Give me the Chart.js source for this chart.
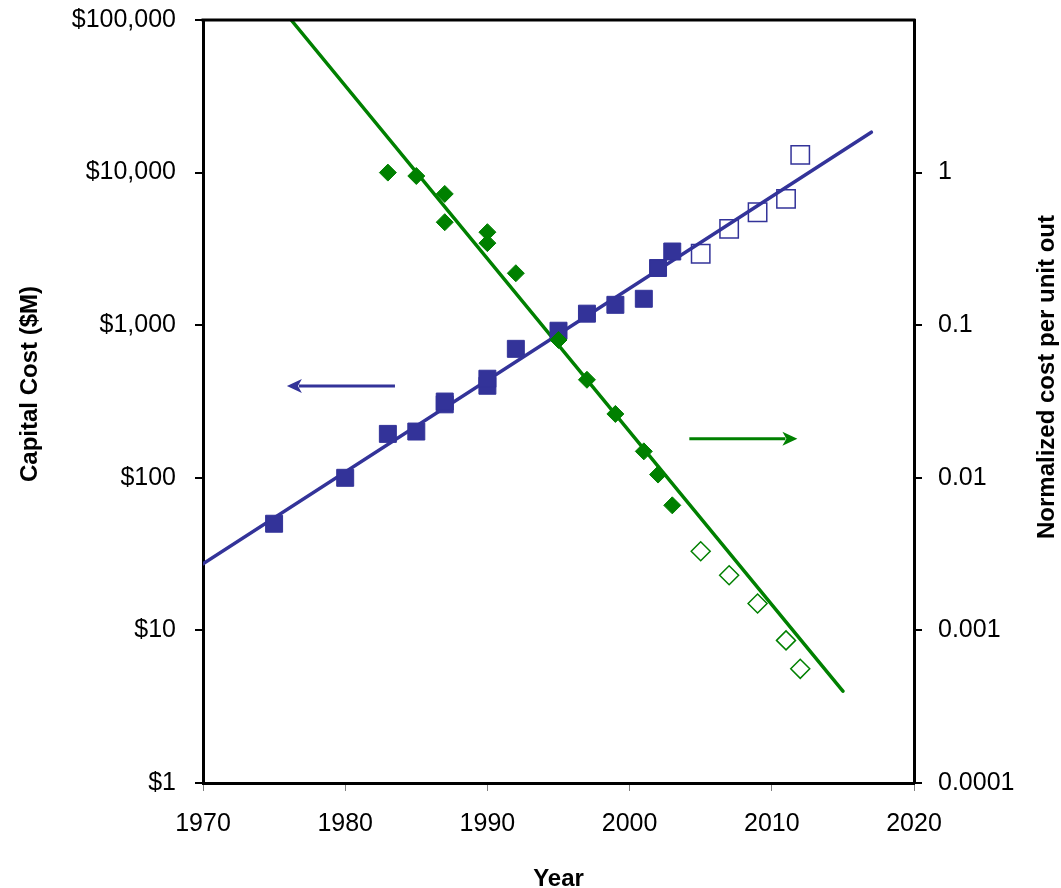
<!DOCTYPE html>
<html lang="en">
<head>
    <meta charset="UTF-8">
    <title>Capital Cost vs Normalized Cost</title>
    <script src="https://cdn.jsdelivr.net/npm/chart.js@4.4.1/dist/chart.umd.js"></script>
    <style>
        body { margin: 0; background: #fff; }
        #wrap { width: 1061px; height: 888px; }
    </style>
</head>
<body>
    <div id="wrap"><canvas id="chart" width="1061" height="888"></canvas></div>
    <script>
        // capital cost ($M), left axis
        const capYears = [1975, 1980, 1983, 1985, 1987, 1987, 1990, 1990, 1992, 1995, 1997, 1999, 2001, 2002, 2003];
        const capCost = [50, 100, 194, 201, 303, 316, 401, 446, 700, 920, 1190, 1360, 1490, 2370, 3040];
        const capYearsProj = [2005, 2007, 2009, 2011, 2012];
        const capCostProj = [2940, 4280, 5500, 6730, 13060];
        const capTrendYears = [1970, 2017];
        const capTrend = [27.3, 18400];

        // normalized cost per unit out, right axis
        const normYears = [1983, 1985, 1987, 1987, 1990, 1990, 1992, 1995, 1997, 1999, 2001, 2002, 2003];
        const normCost = [1.0, 0.95, 0.725, 0.473, 0.407, 0.345, 0.219, 0.08, 0.0439, 0.0262, 0.0149, 0.0105, 0.0066];
        const normYearsProj = [2005, 2007, 2009, 2011, 2012];
        const normCostProj = [0.0033, 0.0023, 0.0015, 0.00086, 0.00056];
        const normTrendYears = [1976.2, 2015];
        const normTrend = [10, 0.0004];

        // axis ticks
        const yearTicks = [1970, 1980, 1990, 2000, 2010, 2020];
        const costTicks = [1, 10, 100, 1000, 10000, 100000];
        const normTicks = [0.0001, 0.001, 0.01, 0.1, 1];

        // arrows pointing at the matching axis: [x, y] start, [x, y] end
        const capArrow = [[1983.5, 400], [1975.9, 400]];
        const normArrow = [[2004.2, 0.018], [2011.8, 0.018]];

        const BLUE = '#333399';
        const GREEN = '#008000';
        const FONT = "'Liberation Sans', Arial, sans-serif";

        const pts = (xs, ys) => xs.map((x, i) => ({ x: x, y: ys[i] }));
        const fixTicks = list => scale => { scale.ticks = list.map(v => ({ value: v })); };
        // fixed box sizes, no label overhang padding
        const fixWidth = w => s => { s.width = w; s.paddingTop = 0; s.paddingBottom = 0; };
        const fixHeight = h => s => { s.height = h; s.paddingLeft = 0; s.paddingRight = 0; };

        function arrow(ctx, x1, y1, x2, y2, color) {
            const dir = Math.sign(x2 - x1);
            ctx.save();
            ctx.strokeStyle = color;
            ctx.fillStyle = color;
            ctx.lineWidth = 3;
            ctx.beginPath();
            ctx.moveTo(x1, y1);
            ctx.lineTo(x2 - dir * 12, y2);
            ctx.stroke();
            ctx.beginPath();
            ctx.moveTo(x2, y2);
            ctx.lineTo(x2 - dir * 15, y2 - 7);
            ctx.lineTo(x2 - dir * 11, y2);
            ctx.lineTo(x2 - dir * 15, y2 + 7);
            ctx.closePath();
            ctx.fill();
            ctx.restore();
        }

        const extras = {
            id: 'extras',
            afterDraw(chart) {
                const { ctx, chartArea: a, scales } = chart;
                // top frame line
                ctx.save();
                ctx.strokeStyle = '#000';
                ctx.lineWidth = 3;
                ctx.beginPath();
                ctx.moveTo(a.left - 1.5, a.top);
                ctx.lineTo(a.right + 1.5, a.top);
                ctx.stroke();

                // axis titles
                ctx.fillStyle = '#000';
                ctx.font = 'bold 24px ' + FONT;
                ctx.textAlign = 'center';
                ctx.textBaseline = 'middle';
                ctx.fillText('Year', (a.left + a.right) / 2, 879);
                ctx.save();
                ctx.translate(30, 384);
                ctx.rotate(-Math.PI / 2);
                ctx.fillText('Capital Cost ($M)', 0, 0);
                ctx.restore();
                ctx.save();
                ctx.translate(1047, 377);
                ctx.rotate(-Math.PI / 2);
                ctx.fillText('Normalized cost per unit out', 0, 0);
                ctx.restore();
                ctx.restore();

                const x = scales.x, y = scales.y, y2 = scales.y2;
                arrow(ctx, x.getPixelForValue(capArrow[0][0]), y.getPixelForValue(capArrow[0][1]),
                      x.getPixelForValue(capArrow[1][0]), y.getPixelForValue(capArrow[1][1]), BLUE);
                arrow(ctx, x.getPixelForValue(normArrow[0][0]), y2.getPixelForValue(normArrow[0][1]),
                      x.getPixelForValue(normArrow[1][0]), y2.getPixelForValue(normArrow[1][1]), GREEN);
            }
        };

        const ctx = document.getElementById('chart').getContext('2d');
        new Chart(ctx, {
            type: 'scatter',
            data: {
                datasets: [
                    {
                        label: 'Normalized cost',
                        data: pts(normYears, normCost),
                        yAxisID: 'y2',
                        pointStyle: 'rectRot',
                        pointRadius: 8.5,
                        backgroundColor: GREEN,
                        borderColor: GREEN,
                        borderWidth: 1,
                        order: 1
                    },
                    {
                        label: 'Normalized cost (projected)',
                        data: pts(normYearsProj, normCostProj),
                        yAxisID: 'y2',
                        pointStyle: 'rectRot',
                        pointRadius: 9.5,
                        backgroundColor: 'rgba(0,0,0,0)',
                        borderColor: GREEN,
                        borderWidth: 1.5,
                        order: 2
                    },
                    {
                        label: 'Capital cost',
                        data: pts(capYears, capCost),
                        yAxisID: 'y',
                        pointStyle: 'rect',
                        pointRadius: 12,
                        backgroundColor: BLUE,
                        borderColor: BLUE,
                        borderWidth: 1,
                        order: 3
                    },
                    {
                        label: 'Capital cost (projected)',
                        data: pts(capYearsProj, capCostProj),
                        yAxisID: 'y',
                        pointStyle: 'rect',
                        pointRadius: 13,
                        backgroundColor: 'rgba(0,0,0,0)',
                        borderColor: BLUE,
                        borderWidth: 1.5,
                        order: 4
                    },
                    {
                        label: 'Normalized trend',
                        type: 'line',
                        data: pts(normTrendYears, normTrend),
                        yAxisID: 'y2',
                        showLine: true,
                        pointRadius: 0,
                        borderColor: GREEN,
                        borderWidth: 3.5,
                        borderCapStyle: 'round',
                        order: 5
                    },
                    {
                        label: 'Capital trend',
                        type: 'line',
                        data: pts(capTrendYears, capTrend),
                        yAxisID: 'y',
                        showLine: true,
                        pointRadius: 0,
                        borderColor: BLUE,
                        borderWidth: 3.5,
                        borderCapStyle: 'round',
                        order: 6
                    }
                ]
            },
            options: {
                responsive: false,
                animation: false,
                events: [],
                layout: { padding: { top: 20, left: 0, right: 0, bottom: 0 } },
                plugins: {
                    legend: { display: false },
                    tooltip: { enabled: false }
                },
                scales: {
                    x: {
                        type: 'linear',
                        position: 'bottom',
                        min: 1970,
                        max: 2020,
                        afterBuildTicks: fixTicks(yearTicks),
                        afterFit: fixHeight(105),
                        ticks: {
                            color: '#000',
                            padding: 18,
                            maxRotation: 0,
                            font: { family: FONT, size: 25 },
                            callback: v => String(v)
                        },
                        grid: { drawOnChartArea: false, tickLength: 8, color: '#808080', lineWidth: 1 },
                        border: { display: true, color: '#000', width: 3 }
                    },
                    y: {
                        type: 'logarithmic',
                        position: 'left',
                        min: 1,
                        max: 100000,
                        afterBuildTicks: fixTicks(costTicks),
                        afterFit: fixWidth(203),
                        ticks: {
                            color: '#000',
                            padding: 19,
                            font: { family: FONT, size: 25 },
                            callback: v => '$' + Number(v).toLocaleString('en-US')
                        },
                        grid: { drawOnChartArea: false, tickLength: 8, color: '#000', lineWidth: 2 },
                        border: { display: true, color: '#000', width: 3 }
                    },
                    y2: {
                        type: 'logarithmic',
                        position: 'right',
                        min: 0.0001,
                        max: 10,
                        afterBuildTicks: fixTicks(normTicks),
                        afterFit: fixWidth(147),
                        ticks: {
                            color: '#000',
                            padding: 16,
                            font: { family: FONT, size: 25 },
                            callback: v => String(v)
                        },
                        grid: { drawOnChartArea: false, tickLength: 8, color: '#000', lineWidth: 2 },
                        border: { display: true, color: '#000', width: 3 }
                    }
                }
            },
            plugins: [extras]
        });
    </script>
</body>
</html>
